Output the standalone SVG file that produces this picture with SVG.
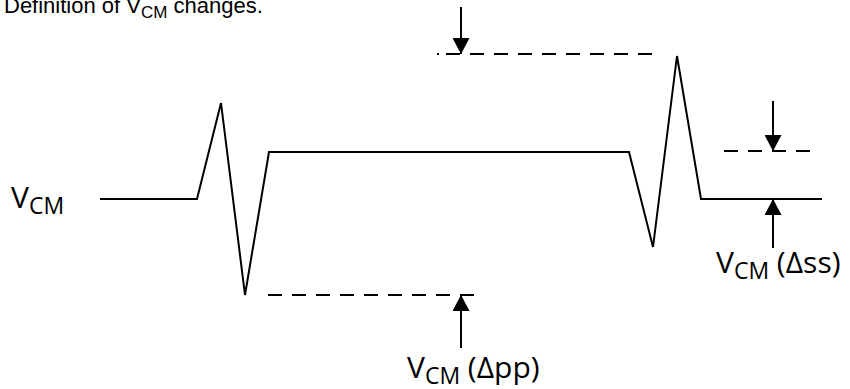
<svg xmlns="http://www.w3.org/2000/svg" width="850" height="389" viewBox="0 0 850 389">
<defs>
<style>
.wave{fill:none;stroke:#000;stroke-width:2}
.dash{stroke:#000;stroke-width:2;stroke-dasharray:14 10;fill:none}
.arr{stroke:#000;stroke-width:2;fill:none}
.lbl{font-family:"Open Sans","Noto Sans",sans-serif;font-size:30px;fill:#000}
.sub{font-size:23px}
.title{font-family:"Liberation Sans",Arial,sans-serif;font-size:22px;fill:#000}
.tsub{font-size:17px}
</style>
<marker id="ah" viewBox="0 0 16 17" refX="16" refY="8.5" markerWidth="16" markerHeight="17" markerUnits="userSpaceOnUse" orient="auto">
<path d="M0,0 L16,8.5 L0,17 Z" fill="#000"/>
</marker>
</defs>
<rect width="850" height="389" fill="#fff"/>
<g id="title">
<text class="title" x="4" y="13">Definition of V<tspan class="tsub" dy="5">CM</tspan><tspan dy="-5"> changes.</tspan></text>
</g>
<g id="waveform">
<polyline class="wave" points="100,199 197,199 221,103 245,295 269,152 629,152 653,247 677,56 701,199 822,199"/>
</g>
<g id="label-vcm">
<text class="lbl" x="11" y="208">V<tspan class="sub" dy="6">CM</tspan></text>
</g>
<g id="label-dss">
<text class="lbl" x="716" y="273">V<tspan class="sub" dy="6">CM</tspan><tspan dy="-6"> (Δss)</tspan></text>
</g>
<g id="label-dpp">
<text class="lbl" x="407" y="378">V<tspan class="sub" dy="6">CM</tspan><tspan dy="-6"> (Δpp)</tspan></text>
</g>
<g id="connectors">
<line class="arr" x1="437" y1="54" x2="439" y2="54"/>
<line class="dash" x1="446" y1="54" x2="652" y2="54"/>
<line class="dash" x1="724" y1="151" x2="812" y2="151"/>
<line class="dash" x1="268" y1="295" x2="476" y2="295"/>
<line class="arr" x1="461" y1="7" x2="461" y2="54" marker-end="url(#ah)"/>
<line class="arr" x1="773" y1="101" x2="773" y2="151" marker-end="url(#ah)"/>
<line class="arr" x1="773" y1="248" x2="773" y2="199" marker-end="url(#ah)"/>
<line class="arr" x1="461" y1="348" x2="461" y2="295" marker-end="url(#ah)"/>
</g>
</svg>
